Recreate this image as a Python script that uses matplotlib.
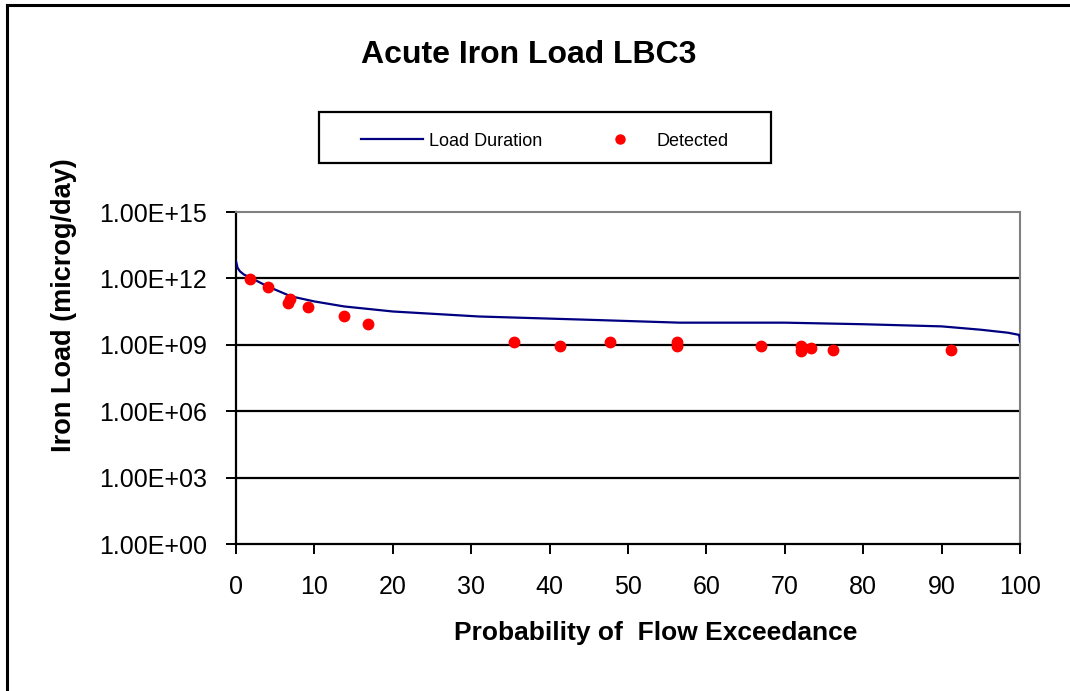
import numpy as np
import matplotlib.pyplot as plt
from matplotlib.lines import Line2D
from matplotlib.patches import Rectangle

plt.rcParams['font.family'] = ['Liberation Sans', 'DejaVu Sans']

# load duration curve (flow exceedance %, load in microg/day)
ld_prob = [0.0, 0.2, 0.5, 1.0, 1.8, 4.0, 7.0, 10.0, 13.8, 20.0, 31.0, 45.0,
           56.6, 64.3, 70.0, 80.0, 90.0, 95.0, 98.5, 99.9, 100.0]
ld_load = [6.0e12, 3.0e12, 2.1e12, 1.5e12, 1.1e12, 4.4e11, 1.55e11, 9.1e10,
           5.4e10, 3.2e10, 1.9e10, 1.35e10, 1.0e10, 1.0e10, 1.0e10, 8.5e9,
           6.8e9, 4.8e9, 3.5e9, 2.8e9, 1.4e9]

# detected samples
det_prob = [1.8, 4.1, 6.6, 6.9, 9.2, 13.8, 16.8, 35.5, 41.3, 47.7, 56.3, 56.3,
            67.0, 72.1, 72.1, 73.3, 76.1, 91.2]
det_load = [9.0e11, 3.9e11, 8.1e10, 1.12e11, 4.9e10, 2.1e10, 9.1e9, 1.38e9,
            9.0e8, 1.38e9, 1.38e9, 9.0e8, 9.0e8, 9.0e8, 5.4e8, 7.2e8, 5.9e8,
            5.9e8]

yticks = [1e0, 1e3, 1e6, 1e9, 1e12, 1e15]
ytick_labels = ['1.00E+00', '1.00E+03', '1.00E+06', '1.00E+09', '1.00E+12',
                '1.00E+15']

W, H = 1070, 691
fig = plt.figure(figsize=(W / 100, H / 100), dpi=100)
ax = fig.add_axes([236 / W, 1 - 544 / H, 784 / W, 332 / H])

ax.set_yscale('log')
ax.set_ylim(1e0, 1e15)
ax.set_xlim(0, 100)
ax.set_yticks(yticks)
ax.set_yticklabels(ytick_labels)
ax.yaxis.set_minor_locator(plt.NullLocator())
ax.set_xticks(range(0, 101, 10))

for y in yticks[1:-1]:
    ax.axhline(y, color='black', lw=1.6, zorder=1)

ax.plot(ld_prob, ld_load, color='#000080', lw=1.6, zorder=3)
ax.plot(det_prob, det_load, 'o', color='#ff0000', ms=7.5, mec='#ff0000',
        zorder=4, clip_on=False)

for side in ['top', 'right']:
    ax.spines[side].set_color('#808080')
    ax.spines[side].set_linewidth(1.5)
for side in ['left', 'bottom']:
    ax.spines[side].set_color('black')
    ax.spines[side].set_linewidth(1.6)

ax.tick_params(axis='both', direction='out', length=7, width=1.4,
               labelsize=18)
ax.tick_params(axis='y', pad=14)
ax.tick_params(axis='x', pad=15)

fig.text(529 / W, 1 - 55 / H, 'Acute Iron Load LBC3', ha='center',
         va='center', fontsize=23, fontweight='bold')
fig.text(64 / W, 1 - 305 / H, 'Iron Load (microg/day)', ha='center',
         va='center', rotation=90, fontsize=19.5, fontweight='bold')
fig.text(656 / W, 1 - 633 / H, 'Probability of  Flow Exceedance',
         ha='center', va='center', fontsize=19, fontweight='bold')

# legend box
fig.add_artist(Rectangle((319 / W, 1 - 163 / H), 452 / W, 51 / H,
                         transform=fig.transFigure, fill=False,
                         edgecolor='black', lw=1.6))
handles = [Line2D([], [], color='#000080', lw=1.6),
           Line2D([], [], ls='', marker='o', color='#ff0000', ms=6.5)]
leg = fig.legend(handles, ['Load Duration', 'Detected'], ncol=2,
                 loc='center', bbox_to_anchor=(545 / W, 1 - 141 / H),
                 frameon=False, fontsize=13, handlelength=3.4,
                 handletextpad=0.35, columnspacing=2.6, borderpad=0)

# outer chart border (left and top edges visible)
fig.add_artist(Line2D([7 / W, 7 / W], [0, 1 - 5 / H],
                      transform=fig.transFigure, color='black', lw=2.2))
fig.add_artist(Line2D([7 / W, 1], [1 - 5 / H, 1 - 5 / H],
                      transform=fig.transFigure, color='black', lw=2.2))

fig.savefig('out.png', dpi=100)
